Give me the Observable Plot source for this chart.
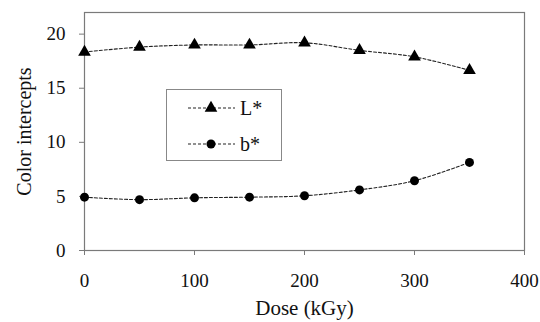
<!DOCTYPE html>
<html>
<head>
<meta charset="utf-8">
<script src="https://cdn.jsdelivr.net/npm/d3@7"></script>
<script src="https://cdn.jsdelivr.net/npm/@observablehq/plot@0.6"></script>
<style>
  html, body { margin: 0; padding: 0; background: #fff; }
  #wrap { position: relative; width: 540px; height: 322px; font-family: "Liberation Serif", "Times New Roman", Times, "DejaVu Serif", serif; }
  #wrap svg, #wrap svg text { font-family: "Liberation Serif", "Times New Roman", Times, "DejaVu Serif", serif !important; }
  #legend { position: absolute; left: 166px; top: 89px; width: 116px; height: 72px; border: 1px solid #888; background: #fff; box-sizing: border-box; }
  #legend .row { position: absolute; left: 0; height: 20px; display: flex; align-items: center; }
  #legend span { font-size: 20px; color: #111; margin-left: 5px; line-height: 20px; }
</style>
</head>
<body>
<div id="wrap"></div>
<script>
const doses = [0, 50, 100, 150, 200, 250, 300, 350];
const Lstar = [18.35, 18.8, 19.0, 19.0, 19.2, 18.5, 17.9, 16.65];
const bstar = [4.93, 4.7, 4.87, 4.93, 5.06, 5.6, 6.45, 8.14];
const seriesNames = ["L*", "b*"];
const xTicks = [0, 100, 200, 300, 400];
const yTicks = [0, 5, 10, 15, 20];

const dataL = doses.map((d, i) => ({dose: d, value: Lstar[i]}));
const dataB = doses.map((d, i) => ({dose: d, value: bstar[i]}));

const serif = "'Liberation Serif', 'Times New Roman', Times, serif";

const chart = Plot.plot({
  width: 540,
  height: 322,
  marginLeft: 84,
  marginRight: 16,
  marginTop: 12,
  marginBottom: 72,
  style: {fontFamily: serif, fontSize: "19px", color: "#111", background: "#fff"},
  x: {domain: [0, 400]},
  y: {domain: [0, 22]},
  marks: [
    Plot.frame({stroke: "#7a7a7a", strokeWidth: 1.2}),
    Plot.axisX({ticks: xTicks, tickSize: 5, tickPadding: 18, label: null, stroke: "#7a7a7a", fontSize: 19, fontFamily: serif}),
    Plot.axisY({ticks: yTicks, tickSize: 5, tickPadding: 14, label: null, stroke: "#7a7a7a", fontSize: 19, fontFamily: serif}),
    Plot.text(["Dose (kGy)"], {frameAnchor: "bottom", lineAnchor: "middle", dy: 58, fontSize: 21, fill: "#111", fontFamily: serif}),
    Plot.text(["Color intercepts"], {frameAnchor: "left", textAnchor: "middle", lineAnchor: "middle", rotate: -90, dx: -60, fontSize: 20, fill: "#111", fontFamily: serif}),
    Plot.line(dataL, {x: "dose", y: "value", curve: "catmull-rom", stroke: "#222", strokeWidth: 1.1, strokeDasharray: "3,2"}),
    Plot.line(dataB, {x: "dose", y: "value", curve: "catmull-rom", stroke: "#222", strokeWidth: 1.1, strokeDasharray: "3,2"}),
    Plot.dot(dataL, {x: "dose", y: "value", symbol: "triangle", r: 4.7, fill: "#000", stroke: "none"}),
    Plot.dot(dataB, {x: "dose", y: "value", symbol: "circle", r: 4.5, fill: "#000", stroke: "none"})
  ]
});

const wrap = document.getElementById("wrap");
wrap.appendChild(chart);

// legend
const legend = document.createElement("div");
legend.id = "legend";
const symbols = ["triangle", "circle"];
const tops = [8, 44];
seriesNames.forEach((name, i) => {
  const row = document.createElement("div");
  row.className = "row";
  row.style.top = tops[i] + "px";
  row.style.left = "21px";
  const ns = "http://www.w3.org/2000/svg";
  const svg = document.createElementNS(ns, "svg");
  svg.setAttribute("width", "47");
  svg.setAttribute("height", "20");
  const line = document.createElementNS(ns, "line");
  line.setAttribute("x1", "0"); line.setAttribute("x2", "47");
  line.setAttribute("y1", "10"); line.setAttribute("y2", "10");
  line.setAttribute("stroke", "#222"); line.setAttribute("stroke-width", "1.1");
  line.setAttribute("stroke-dasharray", "3,2");
  svg.appendChild(line);
  const sym = document.createElementNS(ns, "path");
  const size = symbols[i] === "triangle" ? Math.PI * 4.7 * 4.7 : Math.PI * 4.5 * 4.5;
  const gen = d3.symbol(symbols[i] === "triangle" ? d3.symbolTriangle : d3.symbolCircle, size);
  sym.setAttribute("d", gen());
  sym.setAttribute("transform", "translate(23,10)");
  sym.setAttribute("fill", "#000");
  svg.appendChild(sym);
  row.appendChild(svg);
  const t = document.createElement("span");
  t.textContent = name;
  row.appendChild(t);
  legend.appendChild(row);
});
wrap.appendChild(legend);
</script>
</body>
</html>
